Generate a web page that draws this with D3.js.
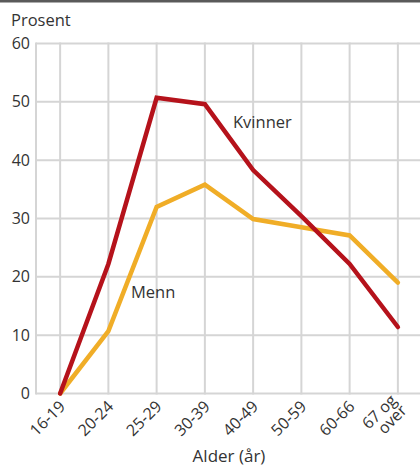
<!DOCTYPE html>
<html>
<head>
<meta charset="utf-8">
<script src="https://cdn.jsdelivr.net/npm/d3@7"></script>
<style>
  body { margin: 0; background: #fff; }
  text { font-family: "Open Sans", sans-serif; fill: #333; }
</style>
</head>
<body>
<svg id="plot" width="420" height="466"></svg>
<script>
// categories and values (percent)
var ageGroups = ["16-19", "20-24", "25-29", "30-39", "40-49", "50-59", "60-66", "67 og over"];
var kvinner = [0, 22.2, 50.7, 49.6, 38.3, 30.4, 22.2, 11.4];
var menn = [0, 10.7, 32.0, 35.8, 29.9, 28.5, 27.1, 19.0];
var yTicks = [0, 10, 20, 30, 40, 50, 60];

var svg = d3.select('#plot'),
    plotLeft = 36, plotRight = 422, plotTop = 43.5, plotBottom = 393.5;

//Set scales
var x = d3.scalePoint().domain(ageGroups).range([plotLeft, plotRight]).padding(0.5),
    y = d3.scaleLinear().domain([0, 60]).range([plotBottom, plotTop]);

// top rule
svg.append('rect')
    .attr('x', 0).attr('y', 0)
    .attr('width', 420).attr('height', 2.5)
    .style('fill', '#5a5a5a');

// horizontal gridlines
svg.append('g')
    .selectAll('line')
    .data(yTicks)
    .enter().append('line')
    .attr('x1', plotLeft).attr('x2', 420)
    .attr('y1', function(d) { return y(d); })
    .attr('y2', function(d) { return y(d); })
    .style('stroke', '#d5d5d5')
    .style('stroke-width', 2);

// vertical gridlines, incl. left edge
svg.append('g')
    .selectAll('line')
    .data([plotLeft].concat(ageGroups.map(function(d) { return x(d); })))
    .enter().append('line')
    .attr('x1', function(d) { return d; })
    .attr('x2', function(d) { return d; })
    .attr('y1', y(60) - 1).attr('y2', y(0) + 1)
    .style('stroke', '#d5d5d5')
    .style('stroke-width', 2);

// y tick labels
svg.append('g')
    .selectAll('text')
    .data(yTicks)
    .enter().append('text')
    .attr('x', 30)
    .attr('y', function(d) { return y(d); })
    .attr('dy', '0.35em')
    .attr('text-anchor', 'end')
    .style('font-size', '16px')
    .text(function(d) { return d; });

svg.append('text')
    .attr('x', 11).attr('y', 26)
    .style('font-size', '16.5px')
    .text('Prosent');

// x tick labels, rotated
var xl = svg.append('g')
    .selectAll('text')
    .data(ageGroups)
    .enter().append('text')
    .attr('text-anchor', 'end')
    .attr('transform', function(d) { return 'translate(' + (x(d) + 6) + ',' + (y(0) + 14) + ') rotate(-45)'; })
    .style('font-size', '16px');
xl.each(function(d) {
    var t = d3.select(this);
    if (d === '67 og over') {
        t.append('tspan').attr('x', 0).attr('dy', '-0.55em').text('67 og');
        t.append('tspan').attr('x', 0).attr('dy', '0.9em').text('over');
    } else {
        t.text(d);
    }
});

svg.append('text')
    .attr('x', (plotLeft + plotRight) / 2).attr('y', 462)
    .attr('text-anchor', 'middle')
    .style('font-size', '17px')
    .text('Alder (år)');

// lines
var line = d3.line()
    .x(function(d, i) { return x(ageGroups[i]); })
    .y(function(d) { return y(d); });

svg.append('path')
    .datum(menn)
    .attr('d', line)
    .style('fill', 'none')
    .style('stroke', '#f0ad27')
    .style('stroke-width', 4.5)
    .style('stroke-linejoin', 'miter')
    .style('stroke-linecap', 'round');

svg.append('path')
    .datum(kvinner)
    .attr('d', line)
    .style('fill', 'none')
    .style('stroke', '#b5121b')
    .style('stroke-width', 4.5)
    .style('stroke-linejoin', 'miter')
    .style('stroke-linecap', 'round');

// series labels
svg.append('text')
    .attr('x', 233).attr('y', 128)
    .style('font-size', '16.5px')
    .text('Kvinner');
svg.append('text')
    .attr('x', 131).attr('y', 298)
    .style('font-size', '16.5px')
    .text('Menn');
</script>
</body>
</html>
